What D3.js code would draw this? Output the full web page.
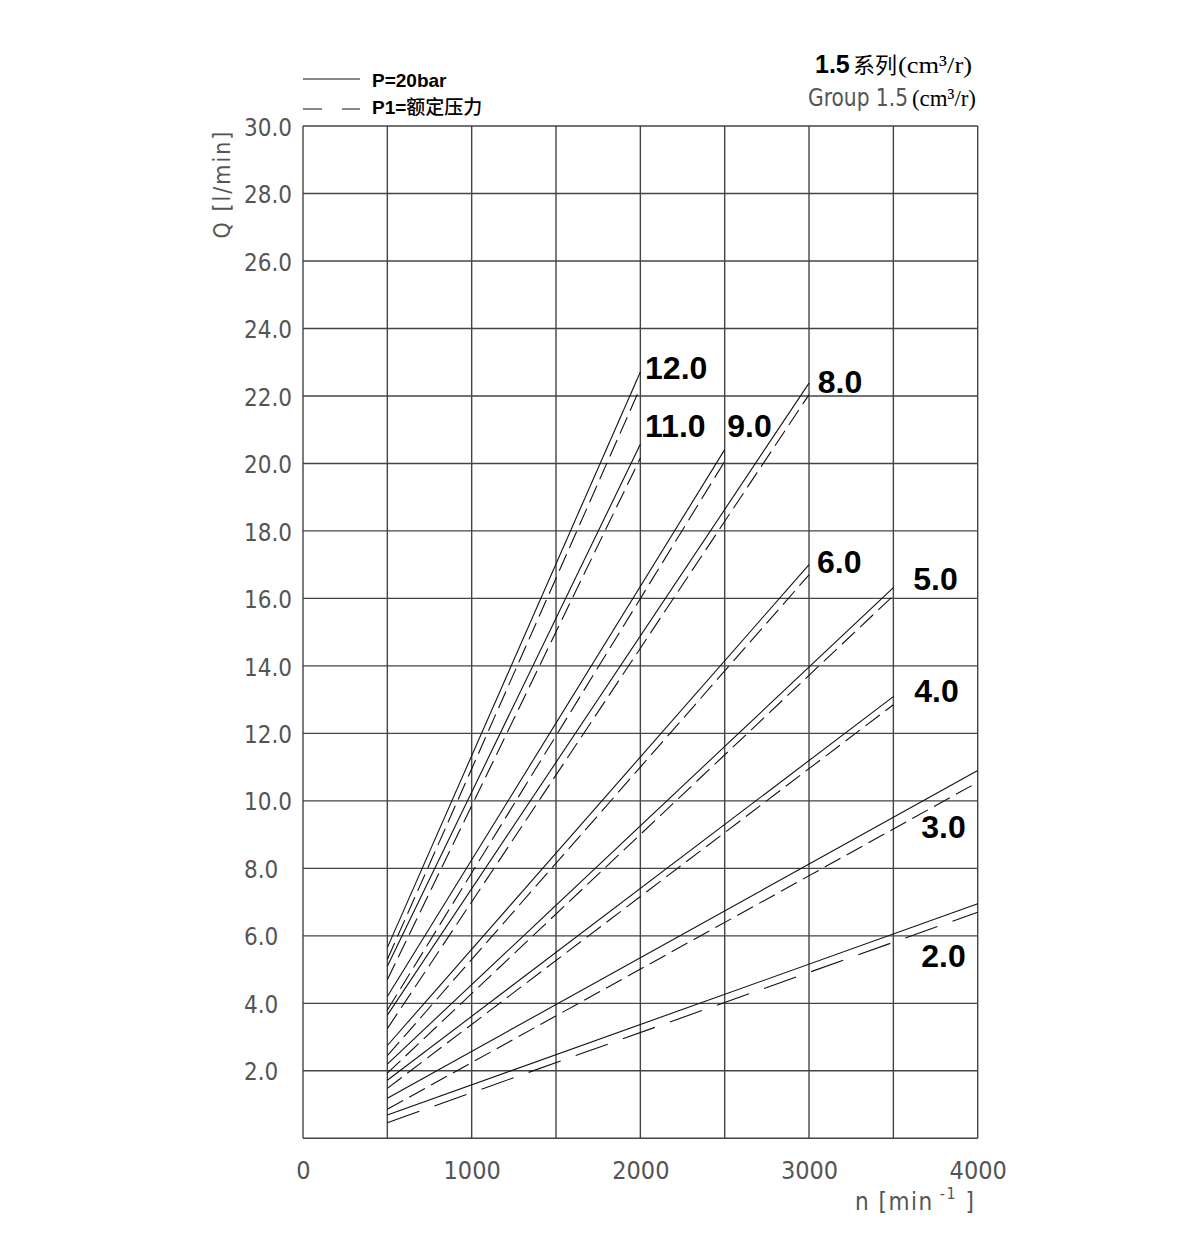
<!DOCTYPE html>
<html>
<head>
<meta charset="utf-8">
<script src="https://cdn.jsdelivr.net/npm/d3@7"></script>
<style>
  html, body { margin: 0; padding: 0; background: #fff; }
  svg { display: block; }
</style>
</head>
<body>
<div id="chart"></div>
<script>
// ── Data ──────────────────────────────────────────────────────
var displacements = ['2.0', '3.0', '4.0', '5.0', '6.0', '8.0', '9.0', '11.0', '12.0'];
var nStart   = [500, 500, 500, 500, 500, 500, 500, 500, 500];
var nEnd     = [4000, 4000, 3500, 3500, 3000, 3000, 2500, 2000, 2000];
// P = 20 bar (solid)
var qSolidStart = [0.69, 1.19, 1.72, 2.20, 2.75, 3.65, 4.20, 5.10, 5.65];
var qSolidEnd   = [6.95, 10.90, 13.09, 16.32, 17.00, 22.38, 20.41, 20.57, 22.71];
// P1 = rated pressure (dashed)
var qDashStart  = [0.46, 0.86, 1.48, 1.93, 2.45, 3.25, 3.80, 4.70, 5.30];
var qDashEnd    = [6.70, 10.55, 12.85, 16.08, 16.70, 22.04, 20.06, 20.16, 22.25];
// where each curve label sits, in chart units (n, Q at baseline)
var labelN = [3665, 3665, 3624, 3618, 3047, 3052, 2515, 2028, 2028];
var labelQ = [5.08, 8.89, 12.92, 16.24, 16.75, 22.10, 20.79, 20.79, 22.51];

var xTicks = [0, 1000, 2000, 3000, 4000];
var yTicks = [2, 4, 6, 8, 10, 12, 14, 16, 18, 20, 22, 24, 26, 28, 30];
var xGrid  = [0, 500, 1000, 1500, 2000, 2500, 3000, 3500, 4000];
var yGrid  = [0, 2, 4, 6, 8, 10, 12, 14, 16, 18, 20, 22, 24, 26, 28, 30];

// ── Styles ────────────────────────────────────────────────────
var THIN_FONT  = '"Liberation Sans Narrow", "DejaVu Sans Condensed", "Liberation Sans", sans-serif';
var BOLD_FONT  = '"Liberation Sans", Arial, sans-serif';
var CJK_FONT   = '"Noto Sans CJK SC", "Noto Sans", sans-serif';
var SERIF_FONT = '"Liberation Serif", "DejaVu Serif", serif';
var GRID_COLOR = '#444';
var TEXT_GRAY  = '#555';

var W = 1200, H = 1258;
var plotL = 303, plotR = 977.7, plotT = 126, plotB = 1138.3;

var svg = d3.select('#chart').append('svg')
  .attr('width', W)
  .attr('height', H);

var x = d3.scaleLinear().domain([0, 4000]).range([plotL, plotR]);
var y = d3.scaleLinear().domain([0, 30]).range([plotB, plotT]);

// ── Grid ──────────────────────────────────────────────────────
var grid = svg.append('g').attr('class', 'grid');

grid.selectAll('.vgrid')
  .data(xGrid)
  .enter()
  .append('line')
  .attr('x1', function(d) { return x(d); })
  .attr('x2', function(d) { return x(d); })
  .attr('y1', y(0))
  .attr('y2', y(30))
  .attr('stroke', GRID_COLOR)
  .attr('stroke-width', 1.4);

grid.selectAll('.hgrid')
  .data(yGrid)
  .enter()
  .append('line')
  .attr('x1', x(0))
  .attr('x2', x(4000))
  .attr('y1', function(d) { return y(d); })
  .attr('y2', function(d) { return y(d); })
  .attr('stroke', GRID_COLOR)
  .attr('stroke-width', 1.4);

// ── Axes (labels only) ────────────────────────────────────────
var xAxis = svg.append('g')
  .attr('transform', 'translate(0,' + (plotB + 14) + ')')
  .call(d3.axisBottom(x).tickValues(xTicks).tickSize(0).tickFormat(d3.format('d')));
xAxis.select('.domain').remove();
xAxis.selectAll('text')
  .attr('font-family', THIN_FONT)
  .attr('font-size', 25)
  .attr('fill', TEXT_GRAY)
  .attr('dy', '0.71em')
  .attr('y', 9);

var yAxis = svg.append('g')
  .attr('transform', 'translate(244,0)')
  .call(d3.axisLeft(y).tickValues(yTicks).tickSize(0).tickFormat(d3.format('.1f')));
yAxis.select('.domain').remove();
yAxis.selectAll('text')
  .attr('font-family', THIN_FONT)
  .attr('font-size', 24)
  .attr('fill', TEXT_GRAY)
  .attr('text-anchor', 'start')
  .attr('x', 0)
  .attr('dy', '0.38em');

// y title
svg.append('text')
  .attr('transform', 'translate(230,184) rotate(-90)')
  .attr('text-anchor', 'middle')
  .attr('font-family', THIN_FONT)
  .attr('font-size', 23)
  .attr('letter-spacing', 2)
  .attr('fill', TEXT_GRAY)
  .text('Q [l/min]');

// x title
var xTitle = svg.append('text')
  .attr('x', 855)
  .attr('y', 1210)
  .attr('font-family', THIN_FONT)
  .attr('font-size', 24)
  .attr('letter-spacing', 1.5)
  .attr('fill', TEXT_GRAY);
xTitle.append('tspan').text('n  [min');
xTitle.append('tspan').attr('dy', -11).attr('font-size', 16).text(' -1');
xTitle.append('tspan').attr('dy', 11).text(' ]');

// ── Curves ────────────────────────────────────────────────────
var series = displacements.map(function(v, i) {
  return {
    name:  v,
    solid: [[nStart[i], qSolidStart[i]], [nEnd[i], qSolidEnd[i]]],
    dash:  [[nStart[i], qDashStart[i]],  [nEnd[i], qDashEnd[i]]],
    label: [labelN[i], labelQ[i]]
  };
});

var line = d3.line()
  .x(function(d) { return x(d[0]); })
  .y(function(d) { return y(d[1]); });

var curves = svg.append('g').attr('class', 'curves');

curves.selectAll('.solid')
  .data(series)
  .enter()
  .append('path')
  .attr('fill', 'none')
  .attr('stroke', '#111')
  .attr('stroke-width', 1.1)
  .attr('d', function(d) { return line(d.solid); });

curves.selectAll('.dashed')
  .data(series)
  .enter()
  .append('path')
  .attr('fill', 'none')
  .attr('stroke', '#111')
  .attr('stroke-width', 1.1)
  .attr('stroke-dasharray', function(d) { return d.name === '2.0' ? '34,16' : '18,7'; })
  .attr('d', function(d) { return line(d.dash); });

curves.selectAll('.curve-label')
  .data(series)
  .enter()
  .append('text')
  .attr('x', function(d) { return x(d.label[0]); })
  .attr('y', function(d) { return y(d.label[1]); })
  .attr('font-family', BOLD_FONT)
  .attr('font-weight', 'bold')
  .attr('font-size', 32)
  .attr('fill', '#000')
  .text(function(d) { return d.name; });

// ── Legend ────────────────────────────────────────────────────
var legend = svg.append('g').attr('class', 'legend');

legend.append('line')
  .attr('x1', 303).attr('x2', 360)
  .attr('y1', 79).attr('y2', 79)
  .attr('stroke', '#111').attr('stroke-width', 1.1);

legend.append('line')
  .attr('x1', 303).attr('x2', 360)
  .attr('y1', 109).attr('y2', 109)
  .attr('stroke', '#111').attr('stroke-width', 1.1)
  .attr('stroke-dasharray', '19,20');

legend.append('text')
  .attr('x', 372).attr('y', 87)
  .attr('font-family', BOLD_FONT)
  .attr('font-weight', 'bold')
  .attr('font-size', 19)
  .text('P=20bar');

var leg2 = legend.append('text')
  .attr('x', 372).attr('y', 114)
  .attr('font-size', 19);
leg2.append('tspan')
  .attr('font-family', BOLD_FONT)
  .attr('font-weight', 'bold')
  .text('P1=');
leg2.append('tspan')
  .attr('font-family', CJK_FONT)
  .attr('font-weight', 500)
  .text('额定压力');

// ── Title (top right) ─────────────────────────────────────────
svg.append('text')
  .attr('x', 815).attr('y', 73)
  .attr('font-family', BOLD_FONT)
  .attr('font-weight', 'bold')
  .attr('font-size', 25)
  .text('1.5');

svg.append('text')
  .attr('x', 853).attr('y', 73)
  .attr('font-family', CJK_FONT)
  .attr('font-size', 22)
  .text('系列');

svg.append('text')
  .attr('x', 898).attr('y', 73)
  .attr('font-family', SERIF_FONT)
  .attr('font-size', 24)
  .attr('textLength', 74)
  .attr('lengthAdjust', 'spacingAndGlyphs')
  .text('(cm³/r)');

svg.append('text')
  .attr('x', 808).attr('y', 106)
  .attr('font-family', THIN_FONT)
  .attr('font-size', 24)
  .attr('textLength', 100)
  .attr('lengthAdjust', 'spacingAndGlyphs')
  .attr('fill', TEXT_GRAY)
  .text('Group  1.5');

svg.append('text')
  .attr('x', 912).attr('y', 106)
  .attr('font-family', SERIF_FONT)
  .attr('font-size', 24)
  .attr('textLength', 64)
  .attr('lengthAdjust', 'spacingAndGlyphs')
  .text('(cm³/r)');
</script>
</body>
</html>
